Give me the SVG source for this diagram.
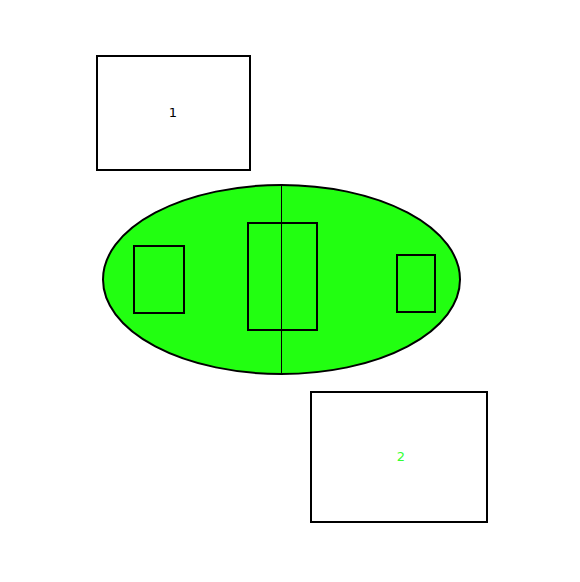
<svg xmlns="http://www.w3.org/2000/svg" width="580" height="582" viewBox="0 0 580 582">
<style>
.box{fill:#fff;stroke:#000;stroke-width:2}
.inner{fill:none;stroke:#000;stroke-width:2}
.lbl{font-family:"DejaVu Sans",sans-serif;font-size:13px;text-anchor:middle;dominant-baseline:central}
</style>
<rect width="580" height="582" fill="#fff"/>
<g id="node1">
<rect class="box" x="97" y="56" width="153" height="114"/>
<text class="lbl" x="173" y="112" fill="#000">1</text>
</g>
<g id="field">
<ellipse cx="281.5" cy="279.5" rx="178.5" ry="94.5" fill="#22ff11" stroke="#000" stroke-width="2"/>
<line x1="281.5" y1="185" x2="281.5" y2="374" stroke="#000" stroke-width="1"/>
<rect class="inner" x="134" y="246" width="50" height="67"/>
<rect class="inner" x="248" y="223" width="69" height="107"/>
<rect class="inner" x="397" y="255" width="38" height="57"/>
</g>
<g id="node2">
<rect class="box" x="311" y="392" width="176" height="130"/>
<text class="lbl" x="401" y="456" fill="#33ff33">2</text>
</g>
<g id="connectors"></g>
</svg>
